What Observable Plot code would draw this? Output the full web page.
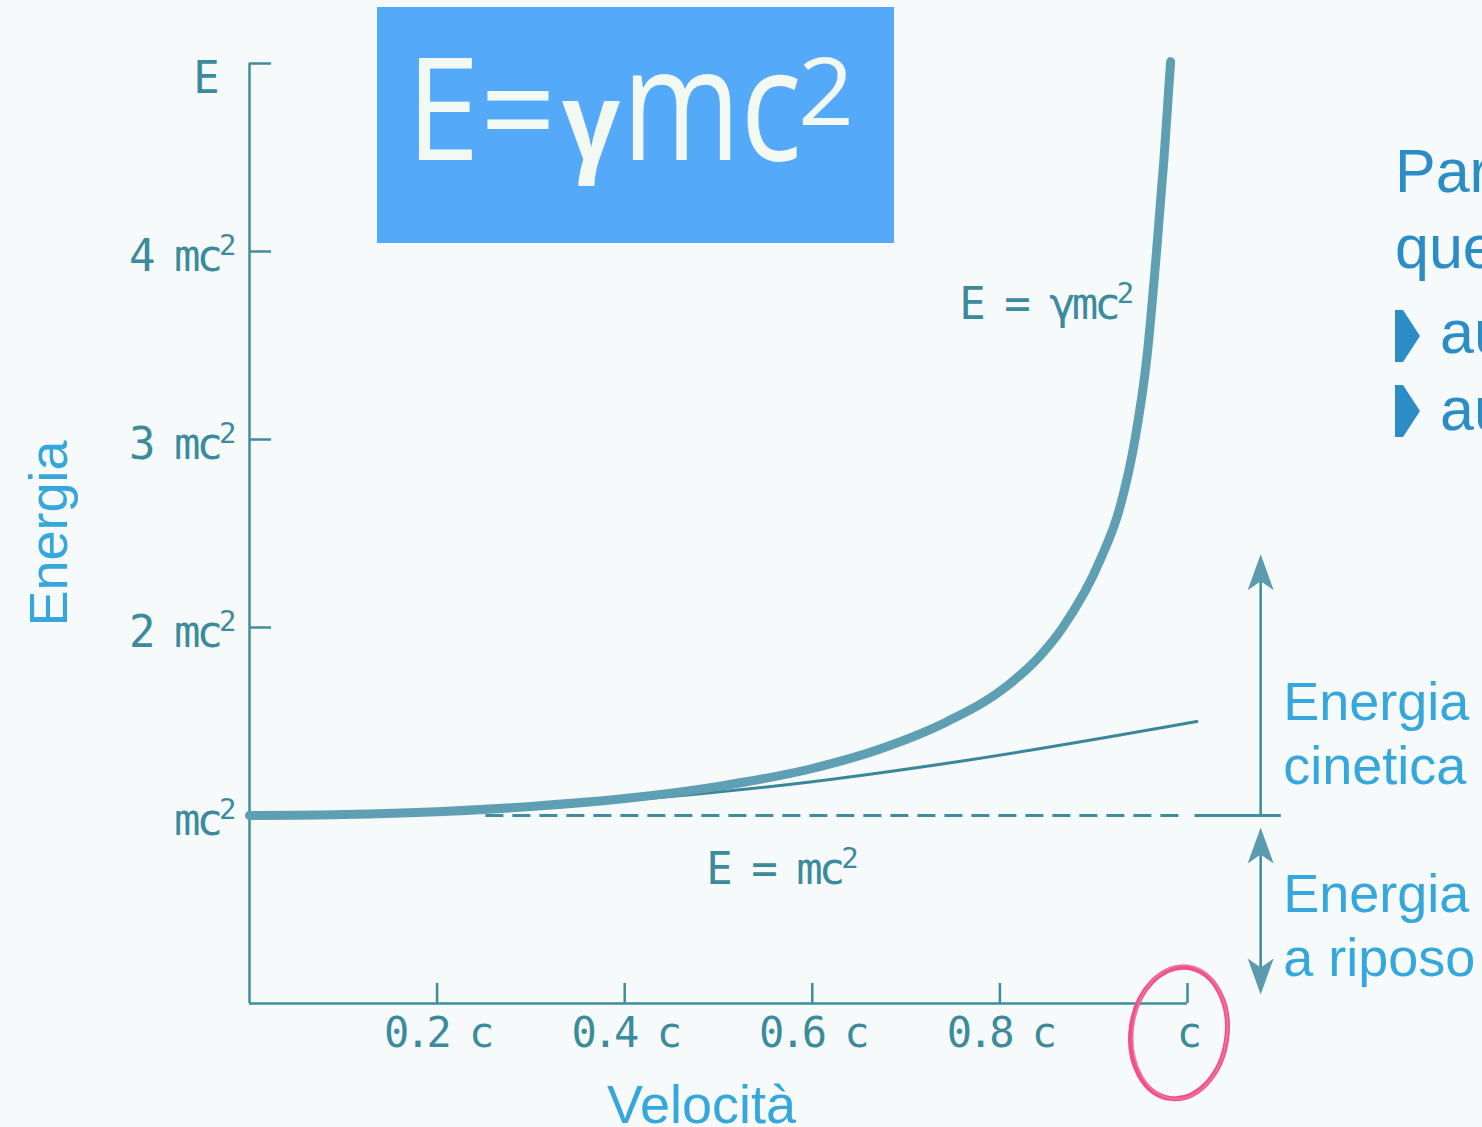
<!DOCTYPE html>
<html>
<head>
<meta charset="utf-8">
<script src="https://cdn.jsdelivr.net/npm/d3@7"></script>
<script src="https://cdn.jsdelivr.net/npm/@observablehq/plot@0.6"></script>
<style>
  html, body { margin: 0; padding: 0; background: #f7fafa; overflow: hidden; }
  #chart svg g[font-family*="DejaVu Sans Mono"] { letter-spacing: -4px; }
</style>
</head>
<body>
<div id="chart"></div>
<script>
// Total energy E = γmc² (in units of mc²) against speed (as a fraction of c)
const speed       = [0, 0.1, 0.2, 0.3, 0.4, 0.5, 0.6, 0.673, 0.744, 0.808, 0.843, 0.867, 0.907, 0.928, 0.944, 0.957, 0.967, 0.975, 0.982];
const totalEnergy = [1.0, 1.005, 1.02, 1.048, 1.09, 1.155, 1.25, 1.355, 1.5, 1.69, 1.85, 2.0, 2.36, 2.64, 3.0, 3.45, 4.0, 4.5, 5.01];

// Classical estimate mc² + ½mv²
const classicalSpeed  = [0, 0.2, 0.4, 0.6, 0.76, 1.01];
const classicalEnergy = [1.0, 1.02, 1.08, 1.18, 1.29, 1.5];

// Rest energy level
const restEnergy = 1;

// Axis ticks and their labels
const yTickValues  = [1, 2, 3, 4, 5];
const yLabelValues = [1, 2, 3, 4];
const yTickLabels  = ["mc²", "2 mc²", "3 mc²", "4 mc²"];
const xTickValues  = [0.2, 0.4, 0.6, 0.8, 1];
const xTickLabels  = ["0.2 c", "0.4 c", "0.6 c", "0.8 c", "c"];

// Text
const yTitle = "Energia";
const xTitle = "Velocità";
const axisTopLabel = "E";
const curveNote = "E = γmc²";
const restNote = "E = mc²";
const kineticLabel = "Energia\ncinetica";
const restLabel = "Energia\na riposo";
const slideLines = ["Par", "que", "au", "au"];

const teal = "#3e8c9e";
const curveTeal = "#5e9fb3";
const labelTeal = "#3c8b9c";
const accent = "#35a7dd";
const mono = "DejaVu Sans Mono, monospace";
const sans = "Liberation Sans, Arial, Helvetica, sans-serif";

const curve = speed.map((v, i) => ({v, E: totalEnergy[i]}));
const classical = classicalSpeed.map((v, i) => ({v, E: classicalEnergy[i]}));
const yLabelOf = new Map(yLabelValues.map((d, i) => [d, yTickLabels[i]]));
const xLabelOf = new Map(xTickValues.map((d, i) => [d, xTickLabels[i]]));

// Annotation anchors (data units)
const arrowX = 1.078;
const labelX = 1.102;

// Dart-shaped arrowheads with the tip at the origin
const headUp = {draw(ctx) { ctx.moveTo(0, 0); ctx.lineTo(-13, 36); ctx.lineTo(0, 27); ctx.lineTo(13, 36); ctx.closePath(); }};
const headDown = {draw(ctx) { ctx.moveTo(0, 0); ctx.lineTo(-13, -36); ctx.lineTo(0, -27); ctx.lineTo(13, -36); ctx.closePath(); }};

const chart = Plot.plot({
  width: 1482,
  height: 1127,
  marginLeft: 249,
  marginRight: 295,
  marginTop: 63,
  marginBottom: 124,
  style: {background: "#f7fafa", color: teal},
  x: {domain: [0, 1], label: null},
  y: {domain: [0, 5], label: null},
  marks: [
    // axis lines
    Plot.ruleX([0], {y1: 0, y2: 5, stroke: teal, strokeWidth: 2.5}),
    Plot.ruleY([0], {x1: 0, x2: 1, stroke: teal, strokeWidth: 2.5}),
    // inward ticks
    Plot.axisY(yTickValues, {tickSize: -22, fill: "none", stroke: teal, strokeWidth: 2.5, label: null}),
    Plot.axisX(xTickValues, {anchor: "bottom", tickSize: -20, fill: "none", stroke: teal, strokeWidth: 2.5, label: null}),
    // tick labels
    Plot.axisY(yLabelValues, {tickSize: 0, tickPadding: 17, dy: 5, tickFormat: (d) => yLabelOf.get(d),
      fill: labelTeal, fontSize: 44, fontFamily: mono, label: null}),
    Plot.axisX(xTickValues, {anchor: "bottom", tickSize: 0, tickPadding: 14, tickFormat: (d) => xLabelOf.get(d),
      fill: labelTeal, fontSize: 42, fontFamily: mono, label: null}),
    Plot.text([axisTopLabel], {x: 0, y: 5, dx: -45, dy: 15, fill: labelTeal, fontSize: 44, fontFamily: mono}),

    // rest-energy level: dashed across the plot, solid where the arrows meet it
    Plot.ruleY([restEnergy], {x1: 0.252, x2: 1.0, stroke: teal, strokeWidth: 3, strokeDasharray: "18,9"}),
    Plot.ruleY([restEnergy], {x1: 1.008, x2: 1.1, stroke: teal, strokeWidth: 3}),

    // classical and relativistic energy
    Plot.line(classical, {x: "v", y: "E", curve: "monotone-x", stroke: "#3a8799", strokeWidth: 3}),
    Plot.line(curve, {x: "v", y: "E", curve: "monotone-x", stroke: curveTeal, strokeWidth: 9, strokeLinecap: "round"}),

    // kinetic and rest energy arrows
    Plot.ruleX([arrowX], {y1: restEnergy, y2: 2.3, stroke: teal, strokeWidth: 2.5}),
    Plot.ruleX([arrowX], {y1: 0.9, y2: 0.09, stroke: teal, strokeWidth: 2.5}),
    Plot.dot([{x: arrowX, y: 2.39}, {x: arrowX, y: 0.936}], {x: "x", y: "y", symbol: headUp, fill: "#5a9bad", stroke: "none"}),
    Plot.dot([{x: arrowX, y: 0.048}], {x: "x", y: "y", symbol: headDown, fill: "#5a9bad", stroke: "none"}),

    // curve notes
    Plot.text([curveNote], {x: 0.939, y: 3.64, textAnchor: "end", lineAnchor: "bottom", fill: labelTeal, fontSize: 44, fontFamily: mono}),
    Plot.text([restNote], {x: 0.566, y: 0.638, lineAnchor: "bottom", fill: labelTeal, fontSize: 44, fontFamily: mono}),

    // side labels
    Plot.text([kineticLabel], {x: labelX, y: 1.165, textAnchor: "start", lineAnchor: "bottom", lineHeight: 1.185,
      fill: accent, fontSize: 54, fontFamily: sans}),
    Plot.text([restLabel], {x: labelX, y: 0.144, textAnchor: "start", lineAnchor: "bottom", lineHeight: 1.185,
      fill: accent, fontSize: 54, fontFamily: sans}),

    // axis titles
    Plot.text([yTitle], {frameAnchor: "left", rotate: -90, textAnchor: "middle", dx: -183, lineAnchor: "bottom",
      fill: accent, fontSize: 54, fontFamily: sans}),
    Plot.text([xTitle], {frameAnchor: "bottom", textAnchor: "middle", dx: -17, dy: 119, lineAnchor: "bottom",
      fill: accent, fontSize: 54, fontFamily: sans})
  ]
});

document.getElementById("chart").append(chart);

const svg = d3.select(chart);

// Raised exponent for every "²"
svg.selectAll("text").each(function () {
  const t = this.textContent;
  if (!t.includes("²") || this.querySelector("tspan")) return;
  const [head, tail] = t.split("²");
  this.textContent = "";
  const el = d3.select(this);
  el.append("tspan").text(head);
  el.append("tspan").attr("font-size", "0.66em").attr("dy", "-0.55em").text("2");
  if (tail) el.append("tspan").attr("dy", "0.55em").text(tail);
});

// Formula banner
svg.append("rect").attr("x", 377).attr("y", 7).attr("width", 517).attr("height", 236).attr("fill", "#55a9f9");
const banner = svg.append("g")
  .attr("font-family", "'Open Sans', Lato, sans-serif")
  .attr("text-anchor", "start")
  .attr("fill", "#f2f8f2");
banner.append("text").attr("x", 406).attr("y", 160).attr("font-size", 143)
  .attr("textLength", 150).attr("lengthAdjust", "spacingAndGlyphs").text("E=");
banner.append("text").attr("x", 562).attr("y", 160).attr("font-size", 108).attr("font-weight", 700)
  .attr("textLength", 58).attr("lengthAdjust", "spacingAndGlyphs").text("γ");
banner.append("text").attr("x", 622).attr("y", 160).attr("font-size", 158)
  .attr("textLength", 180).attr("lengthAdjust", "spacingAndGlyphs").text("mc");
banner.append("text").attr("x", 798).attr("y", 125).attr("font-size", 94)
  .attr("textLength", 56).attr("lengthAdjust", "spacingAndGlyphs").text("2");

// Slide text continuing past the right edge
const side = svg.append("g")
  .attr("font-family", sans)
  .attr("font-size", 61)
  .attr("text-anchor", "start")
  .attr("fill", "#2b8cc6");
const sideRows = [{x: 1395, y: 192}, {x: 1395, y: 268}, {x: 1440, y: 353}, {x: 1440, y: 430}];
slideLines.forEach((line, i) => side.append("text").attr("x", sideRows[i].x).attr("y", sideRows[i].y).text(line));
[310, 385].forEach((top) => {
  side.append("path").attr("d", `M1395,${top}L1403,${top}L1420,${top + 26}L1403,${top + 52}L1395,${top + 52}Z`);
});

// Highlight around the speed of light
svg.append("ellipse").attr("cx", 1179).attr("cy", 1033).attr("rx", 48).attr("ry", 66)
  .attr("transform", "rotate(8,1179,1033)").attr("fill", "none").attr("stroke", "#f0508a").attr("stroke-width", 5);
svg.append("ellipse").attr("cx", 1180).attr("cy", 1032).attr("rx", 47).attr("ry", 67)
  .attr("transform", "rotate(6,1180,1032)").attr("fill", "none").attr("stroke", "#f27aa3").attr("stroke-width", 2).attr("opacity", 0.7);
</script>
</body>
</html>
